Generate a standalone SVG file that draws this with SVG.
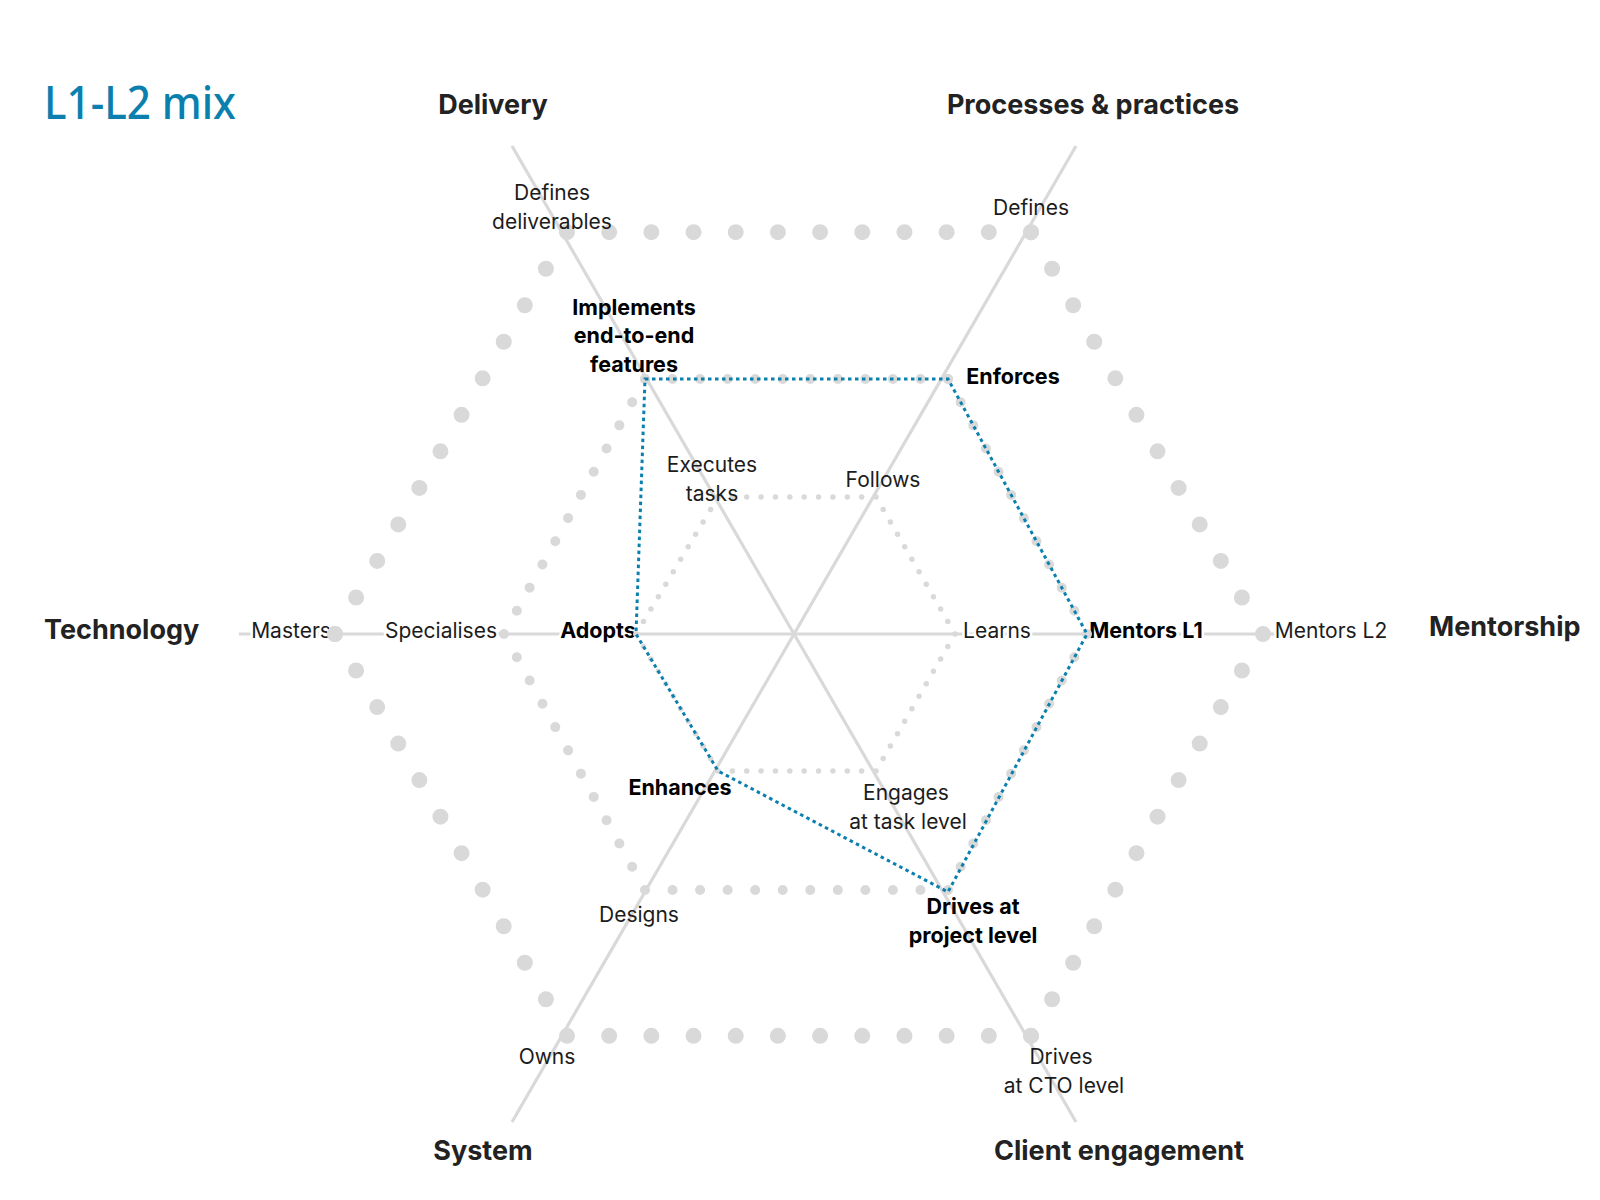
<svg xmlns="http://www.w3.org/2000/svg" width="1600" height="1200" viewBox="0 0 1600 1200">
<style>
.t{font-family:Inter,"Noto Sans","DejaVu Sans",sans-serif;font-size:21px;fill:#1c1c1c;text-anchor:middle}
.b{font-weight:700;fill:#000;font-size:21.5px}
.cat{font-family:Inter,"Noto Sans","DejaVu Sans",sans-serif;font-size:27px;font-weight:700;fill:#222}
.halo{paint-order:stroke;stroke:#fff;stroke-width:5;stroke-linejoin:round}
.axis{stroke:#d9d9d9;stroke-width:3.2;fill:none}
.ring{fill:none;stroke:#d9d9d9;stroke-linecap:round;stroke-dasharray:0 1}
.r3{stroke-width:16}
.r2{stroke-width:10}
.r1{stroke-width:5.5}
</style>
<rect width="1600" height="1200" fill="#fff"/>
<text x="44" y="119" font-family="'Noto Sans','DejaVu Sans',sans-serif" font-size="46" font-weight="500" fill="#0b80ae" textLength="192" lengthAdjust="spacingAndGlyphs">L1-L2 mix</text>

<g id="connectors">
  <g id="axes">
    <line class="axis" x1="512" y1="146" x2="1076" y2="1122"/>
    <line class="axis" x1="1076" y1="146" x2="512" y2="1122"/>
    <line class="axis" x1="239" y1="634" x2="1349" y2="634"/>
  </g>
</g>

<g id="horizontal-labels">
  <text class="t halo" x="291" y="638">Masters</text>
  <text class="t halo" x="441" y="638">Specialises</text>
  <text class="t b halo" x="598" y="638">Adopts</text>
  <text class="t halo" x="997" y="638">Learns</text>
  <text class="t b halo" x="1146" y="638">Mentors L1</text>
  <text class="t halo" x="1331" y="638">Mentors L2</text>
</g>

<g id="rings">
  <g class="ring r3">
    <line pathLength="11" x1="335" y1="634" x2="567" y2="232.2"/>
    <line pathLength="11" x1="567" y1="232.2" x2="1031" y2="232.2"/>
    <line pathLength="11" x1="1031" y1="232.2" x2="1263" y2="634"/>
    <line pathLength="11" x1="1263" y1="634" x2="1031" y2="1035.8"/>
    <line pathLength="11" x1="1031" y1="1035.8" x2="567" y2="1035.8"/>
    <line pathLength="11" x1="567" y1="1035.8" x2="335" y2="634"/>
  </g>
  <g class="ring r2">
    <line pathLength="11" x1="504" y1="634" x2="645" y2="379"/>
    <line pathLength="11" x1="645" y1="379" x2="948" y2="379"/>
    <line pathLength="11" x1="948" y1="379" x2="1087" y2="634"/>
    <line pathLength="11" x1="1087" y1="634" x2="948" y2="890"/>
    <line pathLength="11" x1="948" y1="890" x2="645" y2="890"/>
    <line pathLength="11" x1="645" y1="890" x2="504" y2="634"/>
  </g>
  <g class="ring r1">
    <line pathLength="11" x1="636" y1="634" x2="718" y2="497"/>
    <line pathLength="11" x1="718" y1="497" x2="876" y2="497"/>
    <line pathLength="11" x1="876" y1="497" x2="955" y2="634"/>
    <line pathLength="11" x1="955" y1="634" x2="876" y2="771"/>
    <line pathLength="11" x1="876" y1="771" x2="718" y2="771"/>
    <line pathLength="11" x1="718" y1="771" x2="636" y2="634"/>
  </g>
</g>

<g id="node-delivery">
  <text class="cat" x="493" y="114" text-anchor="middle">Delivery</text>
  <text class="t" x="552" y="200">Defines</text>
  <text class="t" x="552" y="229">deliverables</text>
  <text class="t b" x="634" y="315">Implements</text>
  <text class="t b" x="634" y="343">end-to-end</text>
  <text class="t b" x="634" y="372">features</text>
  <text class="t" x="712" y="472">Executes</text>
  <text class="t" x="712" y="501">tasks</text>
</g>
<g id="node-processes">
  <text class="cat" x="1093" y="114" text-anchor="middle">Processes &amp; practices</text>
  <text class="t" x="1031" y="215">Defines</text>
  <text class="t b" x="1013" y="384">Enforces</text>
  <text class="t" x="883" y="487">Follows</text>
</g>
<g id="node-technology">
  <text class="cat" x="44" y="639">Technology</text>
</g>
<g id="node-mentorship">
  <text class="cat" x="1429" y="636">Mentorship</text>
</g>
<g id="node-system">
  <text class="cat" x="483" y="1160" text-anchor="middle">System</text>
  <text class="t b" x="680" y="795">Enhances</text>
  <text class="t" x="639" y="922">Designs</text>
  <text class="t" x="547" y="1064">Owns</text>
</g>
<g id="node-client">
  <text class="cat" x="1119" y="1160" text-anchor="middle">Client engagement</text>
  <text class="t" x="906" y="800">Engages</text>
  <text class="t" x="908" y="829">at task level</text>
  <text class="t b" x="973" y="914">Drives at</text>
  <text class="t b" x="973" y="943">project level</text>
  <text class="t" x="1061" y="1064">Drives</text>
  <text class="t" x="1064" y="1093">at CTO level</text>
</g>

<g id="profile">
  <path d="M645 379 L948 379 L1087 634 L948 892 L718 771 L636 634 Z" fill="none" stroke="#0b80ae" stroke-width="3" stroke-dasharray="3.5 3.5"/>
</g>
</svg>
